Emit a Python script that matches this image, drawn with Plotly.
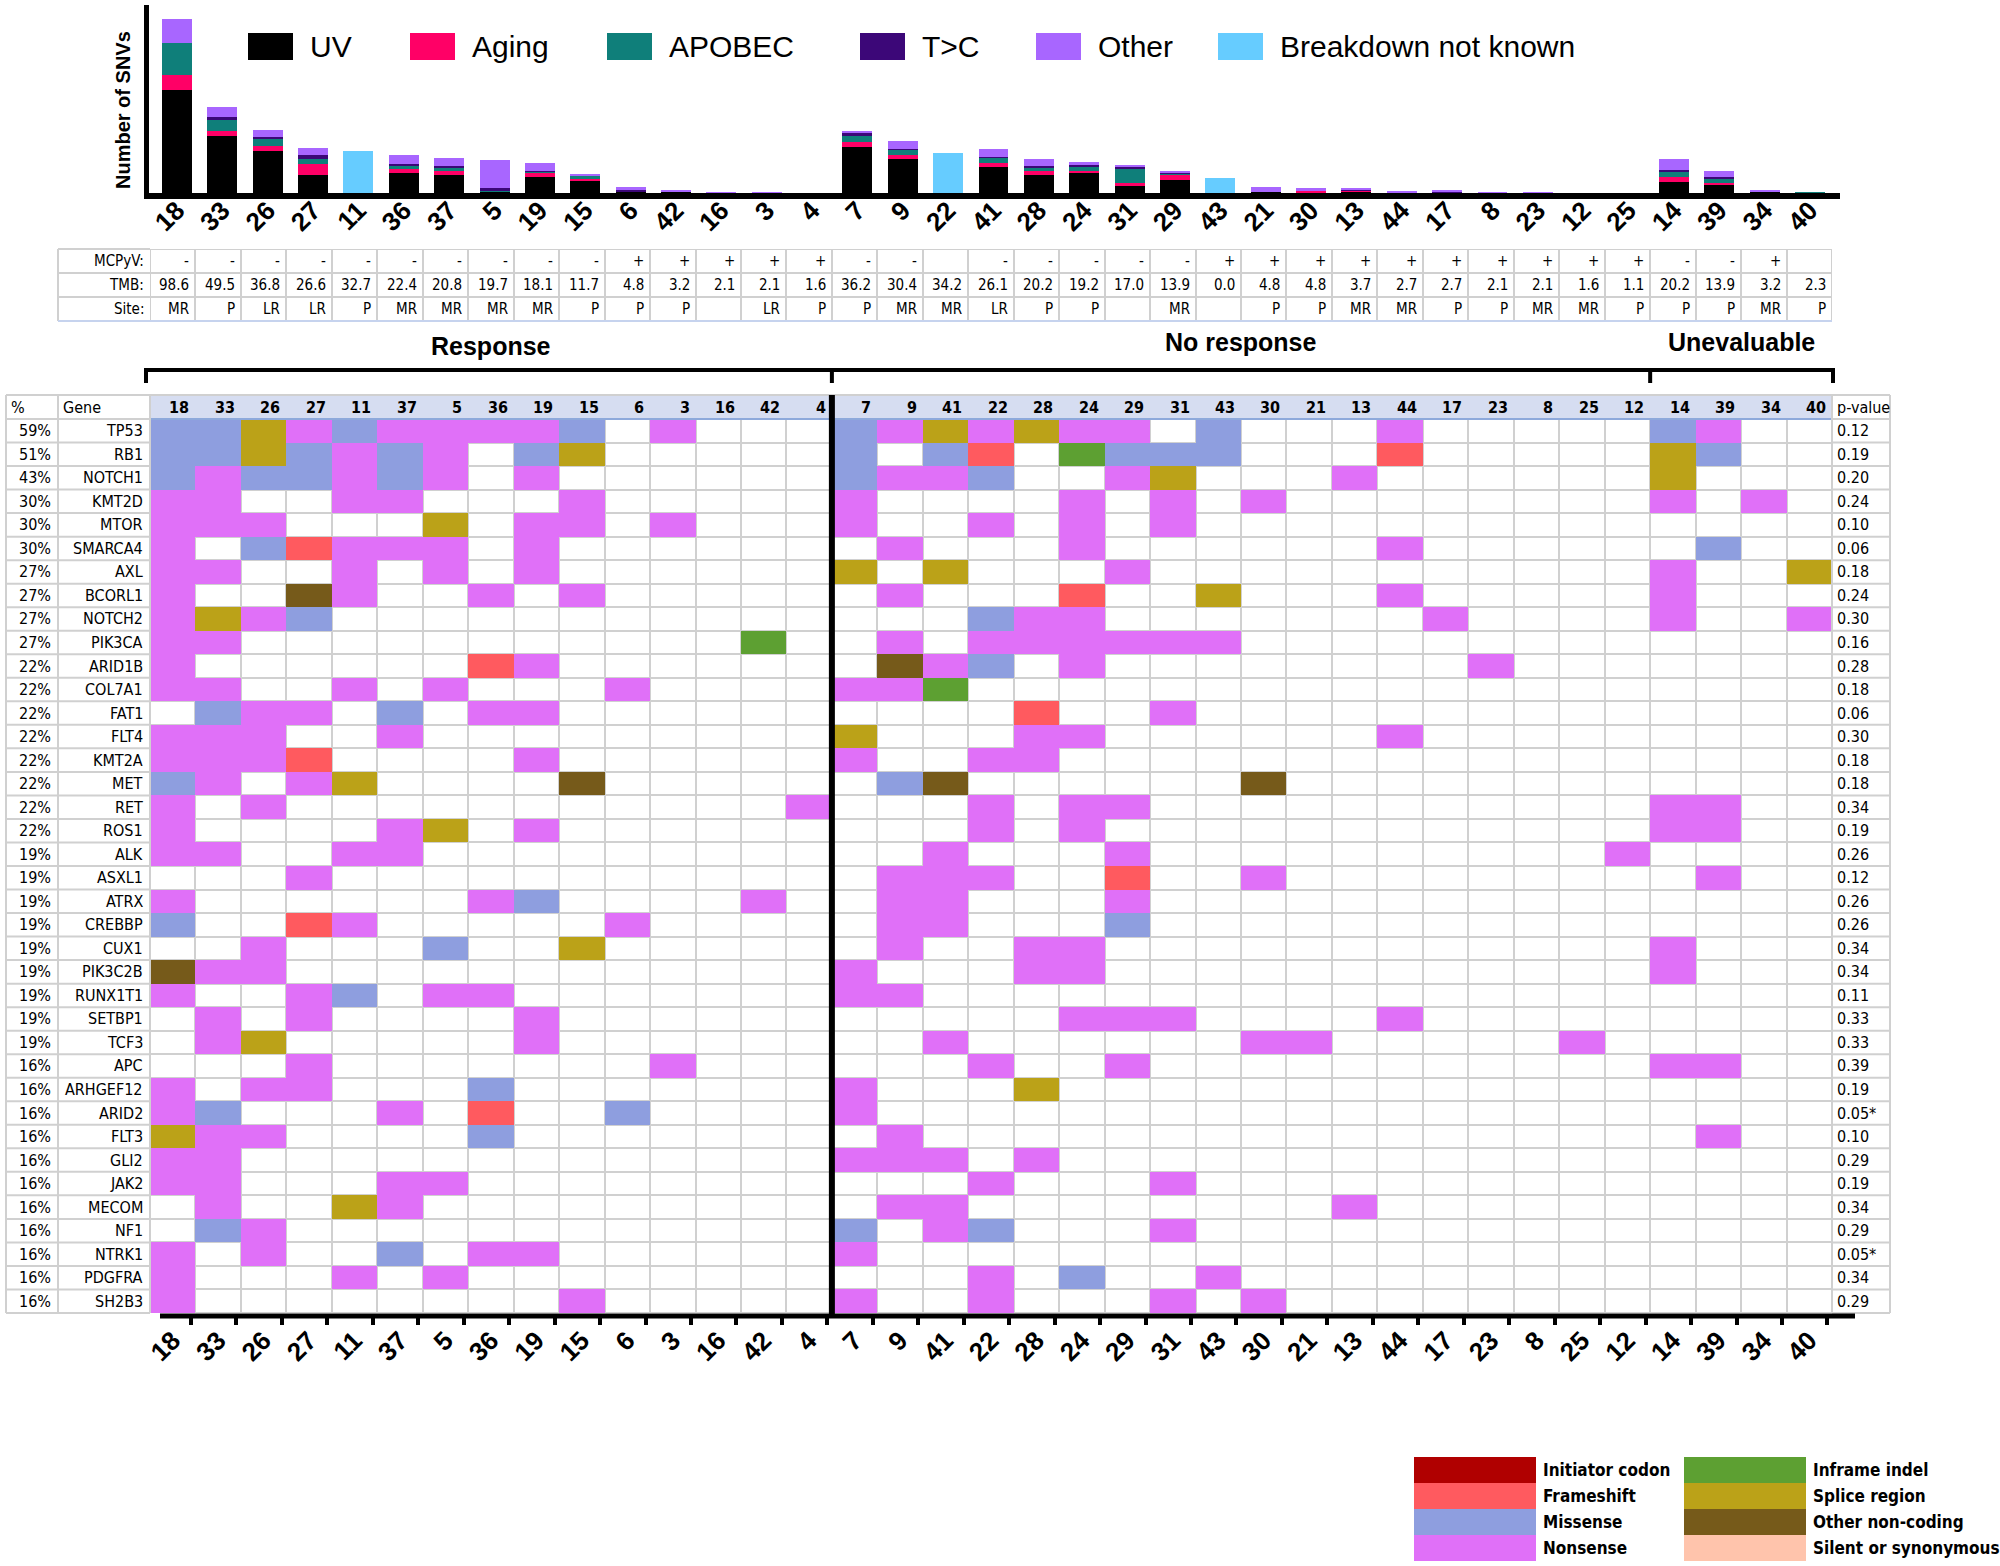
import plotly.graph_objects as go

W_PX, H_PX = 2000, 1566
def fx(x): return x / W_PX
def fy(y): return 1 - y / H_PX

NARROW = "Liberation Sans Narrow, Arial Narrow, DejaVu Sans Condensed, sans-serif"
ARIAL = "Liberation Sans, Arial, sans-serif"

# ---------------- data: top bar chart (order of bar chart) ----------------
bar_patients = ["18","33","26","27","11","36","37","5","19","15","6","42","16","3","4",
                "7","9","22","41","28","24","31","29","43","21","30","13","44","17","8","23","12","25",
                "14","39","34","40"]
snv_uv     = [102.7,57.3,42.3,18.3,0,20.3,18.3,1.3,16.3,12.7,1.3,1.0,0,0,0,
              46.0,33.7,0,25.7,18.3,20.0,6.7,13.3,0,1.0,0.3,1.0,0,0,0,0,0,0,
              11.3,7.7,0.7,0]
snv_aging  = [15.0,4.7,4.7,10.3,0,4.0,3.7,0.3,4.0,1.7,0,0,0,0,0,
              4.7,4.3,0,4.0,3.7,2.0,3.0,4.3,0,0,1.7,1.0,0,0,0,0,0,0,
              5.0,2.7,0,0]
snv_apobec = [32.7,10.7,7.7,5.0,0,3.3,3.3,1.3,1.0,3.0,0,0,0,0,0,
              6.0,5.3,0,5.7,3.7,4.7,14.3,2.0,0,0,0,0,0,0,0,0,0,0,
              4.3,4.3,0,1.0]
snv_tc     = [0,3.3,1.0,4.7,0,1.7,1.7,1.7,1.0,0.3,2.0,0,0,0,0,
              3.3,1.0,0,1.0,1.3,1.3,1.7,1.3,0,0,0,1.3,0,1.3,0,0,0,0,
              2.3,1.7,0,0]
snv_other  = [24.0,10.3,7.7,7.0,0,8.3,7.7,28.7,7.3,1.3,2.3,2.3,1.0,1.0,0,
              2.3,7.7,0,8.0,6.7,3.3,2.3,1.0,0,4.7,3.0,1.0,2.0,1.0,1.0,1.0,0,0,
              10.7,5.7,2.3,0]
snv_unknown = [0,0,0,0,42.3,0,0,0,0,0,0,0,0,0,0,
               0,0,40.0,0,0,0,0,0,15.3,0,0,0,0,0,0,0,0,0,
               0,0,0,0]

# ---------------- data: clinical table (bar chart order) ----------------
mcpyv = ["-","-","-","-","-","-","-","-","-","-","+","+","+","+","+",
         "-","-","","-","-","-","-","-","+","+","+","+","+","+","+","+","+","+",
         "-","-","+",""]
tmb = ["98.6","49.5","36.8","26.6","32.7","22.4","20.8","19.7","18.1","11.7","4.8","3.2","2.1","2.1","1.6",
       "36.2","30.4","34.2","26.1","20.2","19.2","17.0","13.9","0.0","4.8","4.8","3.7","2.7","2.7","2.1","2.1","1.6","1.1",
       "20.2","13.9","3.2","2.3"]
site = ["MR","P","LR","LR","P","MR","MR","MR","MR","P","P","P","","LR","P",
        "P","MR","MR","LR","P","P","","MR","","P","P","MR","MR","P","P","MR","MR","P",
        "P","P","MR","P"]

# ---------------- data: oncoprint (heatmap order) ----------------
heat_patients = ["18","33","26","27","11","37","5","36","19","15","6","3","16","42","4",
                 "7","9","41","22","28","24","29","31","43","30","21","13","44","17","23","8","25","12",
                 "14","39","34","40"]
genes = ["TP53","RB1","NOTCH1","KMT2D","MTOR","SMARCA4","AXL","BCORL1","NOTCH2","PIK3CA",
         "ARID1B","COL7A1","FAT1","FLT4","KMT2A","MET","RET","ROS1","ALK","ASXL1",
         "ATRX","CREBBP","CUX1","PIK3C2B","RUNX1T1","SETBP1","TCF3","APC","ARHGEF12","ARID2",
         "FLT3","GLI2","JAK2","MECOM","NF1","NTRK1","PDGFRA","SH2B3"]
pct = ["59%","51%","43%","30%","30%","30%","27%","27%","27%","27%",
       "22%","22%","22%","22%","22%","22%","22%","22%","19%","19%",
       "19%","19%","19%","19%","19%","19%","19%","16%","16%","16%",
       "16%","16%","16%","16%","16%","16%","16%","16%"]
pvals = ["0.12","0.19","0.20","0.24","0.10","0.06","0.18","0.24","0.30","0.16",
         "0.28","0.18","0.06","0.30","0.18","0.18","0.34","0.19","0.26","0.12",
         "0.26","0.26","0.34","0.34","0.11","0.33","0.33","0.39","0.19","0.05*",
         "0.10","0.29","0.19","0.34","0.29","0.05*","0.34","0.29"]
# F frameshift, M missense, N nonsense, I inframe indel, S splice region, O other non-coding
mutations = [
    "MMSNMNNNNM.N..." "MNSNSNN.M...N....." "MN..",
    "MMSMNMN.MS....." "M.MF.IMMM...F....." "SM..",
    "MNMMNMN.N......" "MNNM..NS...N......" "S...",
    "NN..NN...N....." "N....N.N.N........" "N.N.",
    "NNN...S.NN.N..." "N..N.N.N.........." "....",
    "N.MFNNN.N......" ".N...N......N....." ".M..",
    "NN..N.N.N......" "S.S...N..........." "N..S",
    "N..ON..N.N....." ".N...F..S...N....." "N...",
    "NSNM..........." "...MNN.......N...." "N..N",
    "NN...........I." ".N.NNNNNN........." "....",
    "N......FN......" ".ONM.N........N..." "....",
    "NN..N.N...N...." "NNI..............." "....",
    ".MNN.M.NN......" "....F..N.........." "....",
    "NNN..N........." "S...NN......N....." "....",
    "NNNF....N......" "N..NN............." "....",
    "MN.NS....O....." ".MO......O........" "....",
    "N.N...........N" "...N.NN..........." "NN..",
    "N....NS.N......" "...N.N............" "NN..",
    "NN..NN........." "..N...N..........N" "....",
    "...N..........." ".NNN..F..N........" ".N..",
    "N......NM....N." ".NN...N..........." "....",
    "M..FN.....N...." ".NN...M..........." "....",
    "..N...M..S....." ".N..NN............" "N...",
    "ONN............" "N...NN............" "N...",
    "N..NM.NN......." "NN................" "....",
    ".N.N....N......" ".....NNN....N....." "....",
    ".NS.....N......" "..N......NN.....N." "....",
    "...N.......N..." "...N..N..........." "NN..",
    "N.NN...M......." "N...S............." "....",
    "NM...N.F..M...." "N................." "....",
    "SNN....M......." ".N................" ".N..",
    "NN............." "NNN.N............." "....",
    "NN...NN........" "...N...N.........." "....",
    ".N..SN........." ".NN........N......" "....",
    ".MN............" "M.NM...N.........." "....",
    "N.N..M.NN......" "N................." "....",
    "N...N.N........" "...N.M..N........." "....",
    "N........N....." "N..N...N.N........" "....",
]
mut_types = ["Initiator codon","Frameshift","Missense","Nonsense",
             "Inframe indel","Splice region","Other non-coding","Silent or synonymous"]
mut_colors = ["#B00000","#FF5A5F","#8E9EDF","#E070F8","#5DA032","#BBA218","#765A1A","#FFC4AC"]
code_index = {"F": 2, "M": 3, "N": 4, "I": 5, "S": 6, "O": 7}

sig_names = ["UV","Aging","APOBEC","T>C","Other","Breakdown not known"]
sig_colors = ["#000000","#FF0066","#0F7F7A","#3C0778","#A866FF","#66CCFF"]

groups = [("Response", 0, 15), ("No response", 15, 33), ("Unevaluable", 33, 37)]

# ---------------- geometry (pixels) ----------------
GX0, GX1 = 150, 1832                 # data column grid
NC = len(heat_patients)
CW = (GX1 - GX0) / NC
def colx(i): return GX0 + CW * i    # left edge of column i
HEAD_T, ROW_T, ROW_B = 395, 419, 1313
NR = len(genes)
RH = (ROW_B - ROW_T) / NR
GRID = "#D0D0D0"

fig = go.Figure()

# ---------------- bar chart ----------------
xs = list(range(len(bar_patients)))
for name, vals, col in zip(sig_names, [snv_uv, snv_aging, snv_apobec, snv_tc, snv_other, snv_unknown], sig_colors):
    fig.add_trace(go.Bar(x=xs, y=vals, name=name, marker=dict(color=col, line=dict(width=0)),
                         width=0.66, xaxis="x", yaxis="y", showlegend=False))

# ---------------- clinical table ----------------
fig.add_trace(go.Heatmap(z=[[0] * NC for _ in range(3)], x=list(range(NC)), y=[0, 1, 2],
                         colorscale=[[0, "white"], [1, "white"]], showscale=False,
                         xgap=2, ygap=2, xaxis="x2", yaxis="y2", hoverinfo="skip"))

# ---------------- oncoprint ----------------
fig.add_trace(go.Heatmap(z=[[0] * NC for _ in range(NR)], x=list(range(NC)), y=list(range(NR)),
                         colorscale=[[0, "white"], [1, "white"]], showscale=False,
                         xgap=2, ygap=2, xaxis="x3", yaxis="y3", hoverinfo="skip"))
zc = []
for row in mutations:
    zc.append([code_index[c] if c in code_index else None for c in row])
cs = []
n = len(mut_colors)
for k, c in enumerate(mut_colors):
    cs.append([k / n, c]); cs.append([(k + 1) / n, c])
fig.add_trace(go.Heatmap(z=zc, x=list(range(NC)), y=list(range(NR)), colorscale=cs,
                         zmin=0.5, zmax=n + 0.5, showscale=False, hoverongaps=False,
                         xaxis="x3", yaxis="y3",
                         customdata=[[mut_types[v - 1] if v else "" for v in r] for r in zc],
                         hovertemplate="%{customdata}<extra></extra>"))

shapes, annos = [], []
def line(x0, y0, x1, y1, color="black", w=2, layer="above"):
    shapes.append(dict(type="line", xref="paper", yref="paper", x0=fx(x0), y0=fy(y0),
                       x1=fx(x1), y1=fy(y1), line=dict(color=color, width=w), layer=layer))
def rect(x0, y0, x1, y1, fill, layer="above", lc=None, lw=0):
    shapes.append(dict(type="rect", xref="paper", yref="paper", x0=fx(x0), y0=fy(y1),
                       x1=fx(x1), y1=fy(y0), fillcolor=fill, layer=layer,
                       line=dict(color=lc or fill, width=lw)))
def text(x, y, s, size=16, family=NARROW, bold=False, xanchor="center", yanchor="middle", angle=0, color="black"):
    annos.append(dict(xref="paper", yref="paper", x=fx(x), y=fy(y), text=s, showarrow=False,
                      xanchor=xanchor, yanchor=yanchor, textangle=angle,
                      font=dict(size=size, family=family, color=color, weight="bold" if bold else "normal")))

# bar chart legend
leg_x = [248, 410, 607, 860, 1036, 1218]
for lx, name, col in zip(leg_x, sig_names, sig_colors):
    rect(lx, 33, lx + 45, 60, col)
    text(lx + 60, 47, name, size=30, family=ARIAL, xanchor="left")
text(123, 110, "Number of SNVs", size=20, family=ARIAL, bold=True, angle=-90)

# table grid + labels
TT, TB = 249, 321
TRH = (TB - TT) / 3
rect(GX0, TT, GX1, TB, GRID, layer="below")
for k in range(4):
    line(58, TT + k * TRH, GX0, TT + k * TRH, GRID)
line(58, TT, 58, TB, GRID)
line(58, TB, GX1, TB, "#C6D3EE", 2)
for k, (lab, vals) in enumerate([("MCPyV:", mcpyv), ("TMB:", tmb), ("Site:", site)]):
    yc = TT + (k + 0.5) * TRH
    text(GX0 - 4, yc, lab, size=15, xanchor="right")
    for i, v in enumerate(vals):
        if v:
            annos.append(dict(xref="x2", yref="paper", x=i + 0.5, xshift=-4, y=fy(yc), text=v,
                              showarrow=False, xanchor="right", yanchor="middle",
                              font=dict(size=15, family=NARROW, color="black")))

# group labels + bracket
BY = 370
line(146, BY, 1833, BY, "black", 4)
for name, a, b in groups:
    cx = (colx(a) + colx(b)) / 2
    text(cx, 346 if name == "Response" else 342, name, size=25, family=ARIAL, bold=True)
for bx in [146, colx(15), colx(33), 1833]:
    line(bx, BY - 2, bx, BY + 13, "black", 4)

# oncoprint header + label columns
rect(GX0, ROW_T, GX1, ROW_B, GRID, layer="below")
rect(GX0, HEAD_T, GX1, ROW_T, "#D6DDF1")
line(GX0, ROW_T, GX1, ROW_T, "#8EA9DB", 2)
line(6, HEAD_T, 1890, HEAD_T, GRID)
for k in range(NR + 1):
    yy = ROW_T + k * RH
    line(6, yy, GX0, yy, GRID)
    line(GX1, yy, 1890, yy, GRID)
for xx in [6, 58, GX0, GX1, 1890]:
    line(xx, HEAD_T, xx, ROW_B, GRID)
text(9, 407, "%", size=16, xanchor="left")
text(61, 407, "Gene", size=16, xanchor="left")
text(GX1 + 3, 407, "p-value", size=16, xanchor="left")
for i, p in enumerate(heat_patients):
    annos.append(dict(xref="x3", yref="paper", x=i + 0.5, xshift=-4, y=fy(407), text=p,
                      showarrow=False, xanchor="right", yanchor="middle",
                      font=dict(size=16, family=NARROW, color="black", weight="bold")))
for r, (g, pc, pv) in enumerate(zip(genes, pct, pvals)):
    yc = ROW_T + (r + 0.5) * RH
    text(53, yc, pc, size=16, xanchor="right")
    text(GX0 - 5, yc, g, size=16, xanchor="right")
    text(GX1 + 3, yc, pv, size=16, xanchor="left")

# response / no response divider and bottom axis line
shapes.append(dict(type="line", xref="x3", yref="paper", x0=14.5, x1=14.5, y0=fy(1316), y1=fy(HEAD_T),
                   line=dict(color="black", width=6), layer="above"))
line(160, 1316, 1855, 1316, "black", 5)

# mutation legend (bottom right)
LY = [1457, 1483, 1509, 1535, 1561]
for k, (name, col) in enumerate(zip(mut_types, mut_colors)):
    cidx, ridx = divmod(k, 4)
    x0 = 1414 if cidx == 0 else 1684
    rect(x0, LY[ridx], x0 + 122, LY[ridx + 1], col)
    text(x0 + 127, (LY[ridx] + LY[ridx + 1]) / 2, name, size=17, bold=True, xanchor="left")

fig.update_layout(
    width=W_PX, height=H_PX, margin=dict(l=0, r=0, t=0, b=0, autoexpand=False),
    paper_bgcolor="white", plot_bgcolor="rgba(0,0,0,0)",
    barmode="stack", bargap=0, shapes=shapes, annotations=annos, showlegend=False,
    xaxis=dict(domain=[fx(149), fx(1840)], range=[-0.617, 36.66], anchor="y", tickmode="array",
               tickvals=xs, ticktext=bar_patients, tickangle=-45, showline=True, linewidth=6,
               linecolor="black", showgrid=False, zeroline=False, ticks="", ticklabelstandoff=-14,
               automargin=False,
               tickfont=dict(size=26, family=ARIAL, color="black", weight="bold")),
    yaxis=dict(domain=[fy(193), fy(5)], range=[0, 188], anchor="x", showline=True, linewidth=5,
               linecolor="black", showgrid=False, zeroline=False, showticklabels=False, ticks="",
               automargin=False),
    xaxis2=dict(domain=[fx(GX0), fx(GX1)], range=[-0.5, NC - 0.5], anchor="y2", visible=False),
    yaxis2=dict(domain=[fy(TB), fy(TT)], range=[2.5, -0.5], anchor="x2", visible=False),
    xaxis3=dict(domain=[fx(GX0), fx(GX1)], range=[-0.5, NC - 0.5], anchor="y3", tickmode="array",
                tickvals=list(range(NC)), ticktext=heat_patients, tickangle=-45, ticks="",
                showline=False, showgrid=False, zeroline=False, ticklabelstandoff=6,
                automargin=False,
                tickfont=dict(size=26, family=ARIAL, color="black", weight="bold"),
                minor=dict(tickmode="array", tickvals=[i + 0.4 for i in range(NC)], ticks="outside",
                           ticklen=11, tickwidth=4, tickcolor="black", showgrid=False)),
    yaxis3=dict(domain=[fy(ROW_B), fy(ROW_T)], range=[NR - 0.5, -0.5], anchor="x3", visible=False),
)

fig.write_html("out.html", config={"displayModeBar": False},
               post_script="document.body.style.margin='0';document.body.style.overflow='hidden';")
